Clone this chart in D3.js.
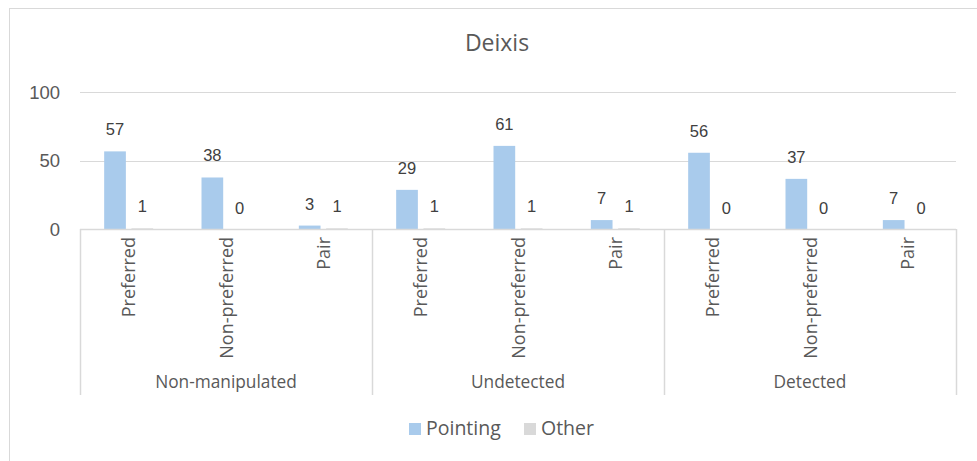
<!DOCTYPE html>
<html>
<head>
<meta charset="utf-8">
<script src="https://cdn.jsdelivr.net/npm/d3@7"></script>
<style>
  html, body { margin: 0; padding: 0; background: #fff; }
  svg { display: block; font-family: "Open Sans", "Liberation Sans", Arial, sans-serif; }
</style>
</head>
<body>
<svg id="chart" width="977" height="461"></svg>
<script>
// Chart data
const groups = ["Non-manipulated", "Undetected", "Detected"];
const subcategories = ["Preferred", "Non-preferred", "Pair"];
const seriesNames = ["Pointing", "Other"];
const pointing = [57, 38, 3, 29, 61, 7, 56, 37, 7];
const other = [1, 0, 1, 1, 1, 1, 0, 0, 0];
const yTicks = [0, 50, 100];
const colors = ["#a9cbec", "#d9d9d9"];

const svg = d3.select("#chart");
const textColor = "#595959";
const numFont = "Liberation Sans, Arial, sans-serif";

// Chart frame
svg.append("rect")
  .attr("x", 9.5).attr("y", 8.5)
  .attr("width", 990).attr("height", 470)
  .attr("fill", "#fff").attr("stroke", "#d9d9d9").attr("stroke-width", 1);

// Title
svg.append("text")
  .attr("x", 497).attr("y", 51)
  .attr("text-anchor", "middle")
  .attr("font-size", 23)
  .attr("fill", textColor)
  .text("Deixis");

const plot = { left: 80, right: 956, top: 92.3, bottom: 229.7 };

// Flattened category keys (group|sub)
const keys = [];
groups.forEach(g => subcategories.forEach(s => keys.push(g + "|" + s)));

const x = d3.scaleBand().domain(keys).range([plot.left, plot.right]).paddingInner(0).paddingOuter(0);
const y = d3.scaleLinear().domain([0, 100]).range([plot.bottom, plot.top]);

// Gridlines
svg.append("g").selectAll("line").data(yTicks.filter(t => t > 0)).join("line")
  .attr("x1", plot.left).attr("x2", plot.right)
  .attr("y1", d => Math.round(y(d)) + 0.5).attr("y2", d => Math.round(y(d)) + 0.5)
  .attr("stroke", "#d9d9d9").attr("stroke-width", 1);

// Y axis labels
const yAxis = d3.axisLeft(y).tickValues(yTicks).tickSize(0).tickPadding(20);
const yG = svg.append("g").attr("transform", `translate(${plot.left},0)`).call(yAxis);
yG.select(".domain").remove();
yG.selectAll("text").attr("font-size", 18.5).attr("fill", textColor)
  .attr("font-family", numFont);

// Bars
const barW = 21.7, barGap = 5.6;
const rows = keys.map((k, i) => ({ key: k, values: [pointing[i], other[i]] }));
const barsG = svg.append("g");
rows.forEach(r => {
  const cx = x(r.key) + x.bandwidth() / 2;
  r.values.forEach((v, si) => {
    const bx = si === 0 ? cx - barGap / 2 - barW : cx + barGap / 2;
    barsG.append("rect")
      .attr("x", bx).attr("y", y(v))
      .attr("width", barW).attr("height", y(0) - y(v))
      .attr("fill", colors[si]);
    barsG.append("text")
      .attr("x", bx + barW / 2).attr("y", y(v) - 16)
      .attr("text-anchor", "middle")
      .attr("font-size", 16.5)
      .attr("font-family", numFont)
      .attr("fill", "#404040")
      .text(v);
  });
});

// Category axis (two levels)
const axisG = svg.append("g");
axisG.append("line")
  .attr("x1", plot.left).attr("x2", plot.right)
  .attr("y1", 229.5).attr("y2", 229.5)
  .attr("stroke", "#d9d9d9").attr("stroke-width", 1.5);

const groupScale = d3.scaleBand().domain(groups).range([plot.left, plot.right]);
const bounds = groups.map(g => groupScale(g)).concat([plot.right]);
axisG.selectAll("line.sep").data(bounds).join("line")
  .attr("class", "sep")
  .attr("x1", d => d + 0.5).attr("x2", d => d + 0.5)
  .attr("y1", 229).attr("y2", 395)
  .attr("stroke", "#d9d9d9").attr("stroke-width", 1.5);

// Rotated subcategory labels
axisG.selectAll("text.sub").data(keys).join("text")
  .attr("class", "sub")
  .attr("transform", d => `translate(${x(d) + x.bandwidth() / 2 + 6.5},237) rotate(-90)`)
  .attr("text-anchor", "end")
  .attr("font-size", 18)
  .attr("fill", textColor)
  .text(d => d.split("|")[1]);

// Group labels
axisG.selectAll("text.grp").data(groups).join("text")
  .attr("class", "grp")
  .attr("x", d => groupScale(d) + groupScale.bandwidth() / 2)
  .attr("y", 388)
  .attr("text-anchor", "middle")
  .attr("font-size", 17.3)
  .attr("fill", textColor)
  .text(d => d);

// Legend
const legendItems = [{ name: seriesNames[0], x: 409 }, { name: seriesNames[1], x: 524 }];
const lg = svg.append("g");
legendItems.forEach((it, i) => {
  lg.append("rect").attr("x", it.x).attr("y", 423).attr("width", 12).attr("height", 12).attr("fill", colors[i]);
  lg.append("text").attr("x", it.x + 17).attr("y", 435)
    .attr("font-size", 19.5).attr("fill", textColor).text(it.name);
});
</script>
</body>
</html>
